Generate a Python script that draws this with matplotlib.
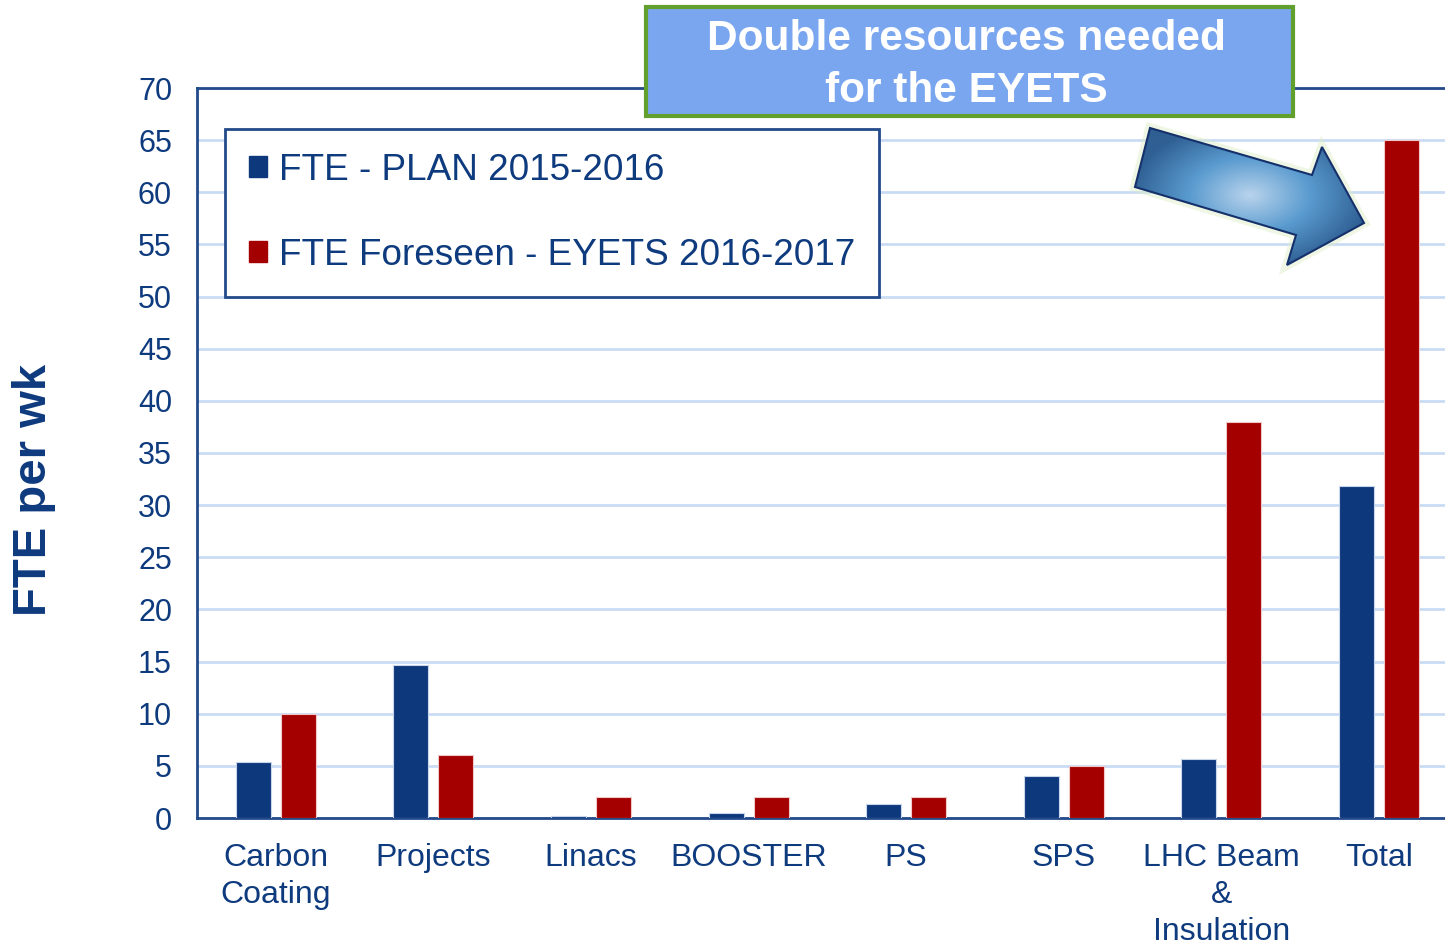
import numpy as np
import matplotlib
matplotlib.use("Agg")
import matplotlib.pyplot as plt
from matplotlib.patches import Patch, Rectangle, Polygon
from matplotlib.colors import LinearSegmentedColormap

plt.rcParams['font.family'] = ['Liberation Sans', 'DejaVu Sans']

categories = ["Carbon\nCoating", "Projects", "Linacs", "BOOSTER", "PS", "SPS",
              "LHC Beam\n&\nInsulation", "Total"]
plan_2015_2016 = [5.4, 14.7, 0.2, 0.5, 1.3, 4.0, 5.7, 31.8]
eyets_2016_2017 = [10.0, 6.0, 2.0, 2.0, 2.0, 5.0, 38.0, 65.0]
series_labels = ["FTE - PLAN 2015-2016", "FTE Foreseen - EYETS 2016-2017"]
y_ticks = list(range(0, 71, 5))
y_label = "FTE per wk"
callout_text = "Double resources needed\nfor the EYETS"

BLUE = "#0E387C"
RED = "#A50000"
TXT = "#0E3A7E"
SPINE = "#234A8A"
GRID = "#CADCF4"

W, H = 1445, 944
fig = plt.figure(figsize=(W / 100, H / 100), dpi=100)
ax_w = 8 * 157.6
ax = fig.add_axes([197 / W, (H - 818) / H, ax_w / W, (818 - 88) / H])

x = np.arange(len(categories))
bw = 0.222
off = 0.143
ax.bar(x - off, plan_2015_2016, bw, color=BLUE, edgecolor="#C8D6EC", linewidth=0.8, zorder=3)
ax.bar(x + off, eyets_2016_2017, bw, color=RED, edgecolor="#F0C8C8", linewidth=0.8, zorder=3)

ax.set_xlim(-0.5, len(categories) - 0.5)
ax.set_ylim(0, 70)
ax.set_yticks(y_ticks)
ax.set_yticklabels([str(v) for v in y_ticks], fontsize=22, color=TXT)
ax.set_xticks(x)
ax.set_xticklabels(categories, fontsize=23, color=TXT, linespacing=1.3)
ax.tick_params(axis='both', length=0)
ax.tick_params(axis='y', pad=18)
ax.tick_params(axis='x', pad=18)
ax.yaxis.grid(True, color=GRID, linewidth=2, zorder=0)
ax.set_axisbelow(True)
for side in ["left", "bottom", "top", "right"]:
    ax.spines[side].set_color(SPINE)
    ax.spines[side].set_linewidth(2)

ax.set_ylabel(y_label, fontsize=34, fontweight='bold', color=TXT)
ax.yaxis.set_label_coords((56 - 197) / ax_w, (818 - 490) / 730)

handles = [Patch(facecolor=BLUE, edgecolor=BLUE), Patch(facecolor=RED, edgecolor=RED)]
leg = fig.legend(handles, series_labels, loc='upper left',
                 bbox_to_anchor=(225 / W, 1 - 129 / H), borderaxespad=0,
                 fontsize=26.6, labelcolor=TXT, frameon=True, fancybox=False,
                 edgecolor=SPINE, handlelength=0.5, handleheight=0.5,
                 handletextpad=0.3, labelspacing=1.35, borderpad=0.65, framealpha=1)
leg.get_frame().set_linewidth(2)

# overlay for callout and arrow
ov = fig.add_axes([0, 0, 1, 1])
ov.set_xlim(0, W)
ov.set_ylim(H, 0)
ov.axis('off')
ov.patch.set_alpha(0)

ov.add_patch(Rectangle((646, 7), 647, 109, facecolor="#79A6EF", edgecolor="#62A02E", linewidth=3))
ov.text(966, 65, callout_text, ha='center', va='center', fontsize=30.5, fontweight='bold',
        color='white', linespacing=1.4)

pts = [(1150, 128), (1312, 175), (1322, 147), (1364, 223), (1287, 265), (1296, 235), (1135, 187)]
ov.add_patch(Polygon(pts, closed=True, facecolor='none', edgecolor="#DCEFC4", linewidth=7, alpha=0.45, zorder=1))
poly = Polygon(pts, closed=True, facecolor='none', edgecolor='none', zorder=2)
ov.add_patch(poly)
xs = np.linspace(1130, 1370, 240)
ys = np.linspace(125, 270, 150)
XX, YY = np.meshgrid(xs, ys)
R = np.sqrt(((XX - 1250) / 120) ** 2 + ((YY - 195) / 75) ** 2)
cmap = LinearSegmentedColormap.from_list("g", ["#B8D3EC", "#5A9BCF", "#2F5F93"])
im = ov.imshow(np.clip(R, 0, 1), cmap=cmap, extent=(1130, 1370, 270, 125), origin='upper',
               zorder=2, aspect='auto')
im.set_clip_path(poly)
ov.add_patch(Polygon(pts, closed=True, facecolor='none', edgecolor="#15306A", linewidth=1.5, zorder=3))
ov.set_xlim(0, W)
ov.set_ylim(H, 0)

fig.savefig("out.png", dpi=100)
